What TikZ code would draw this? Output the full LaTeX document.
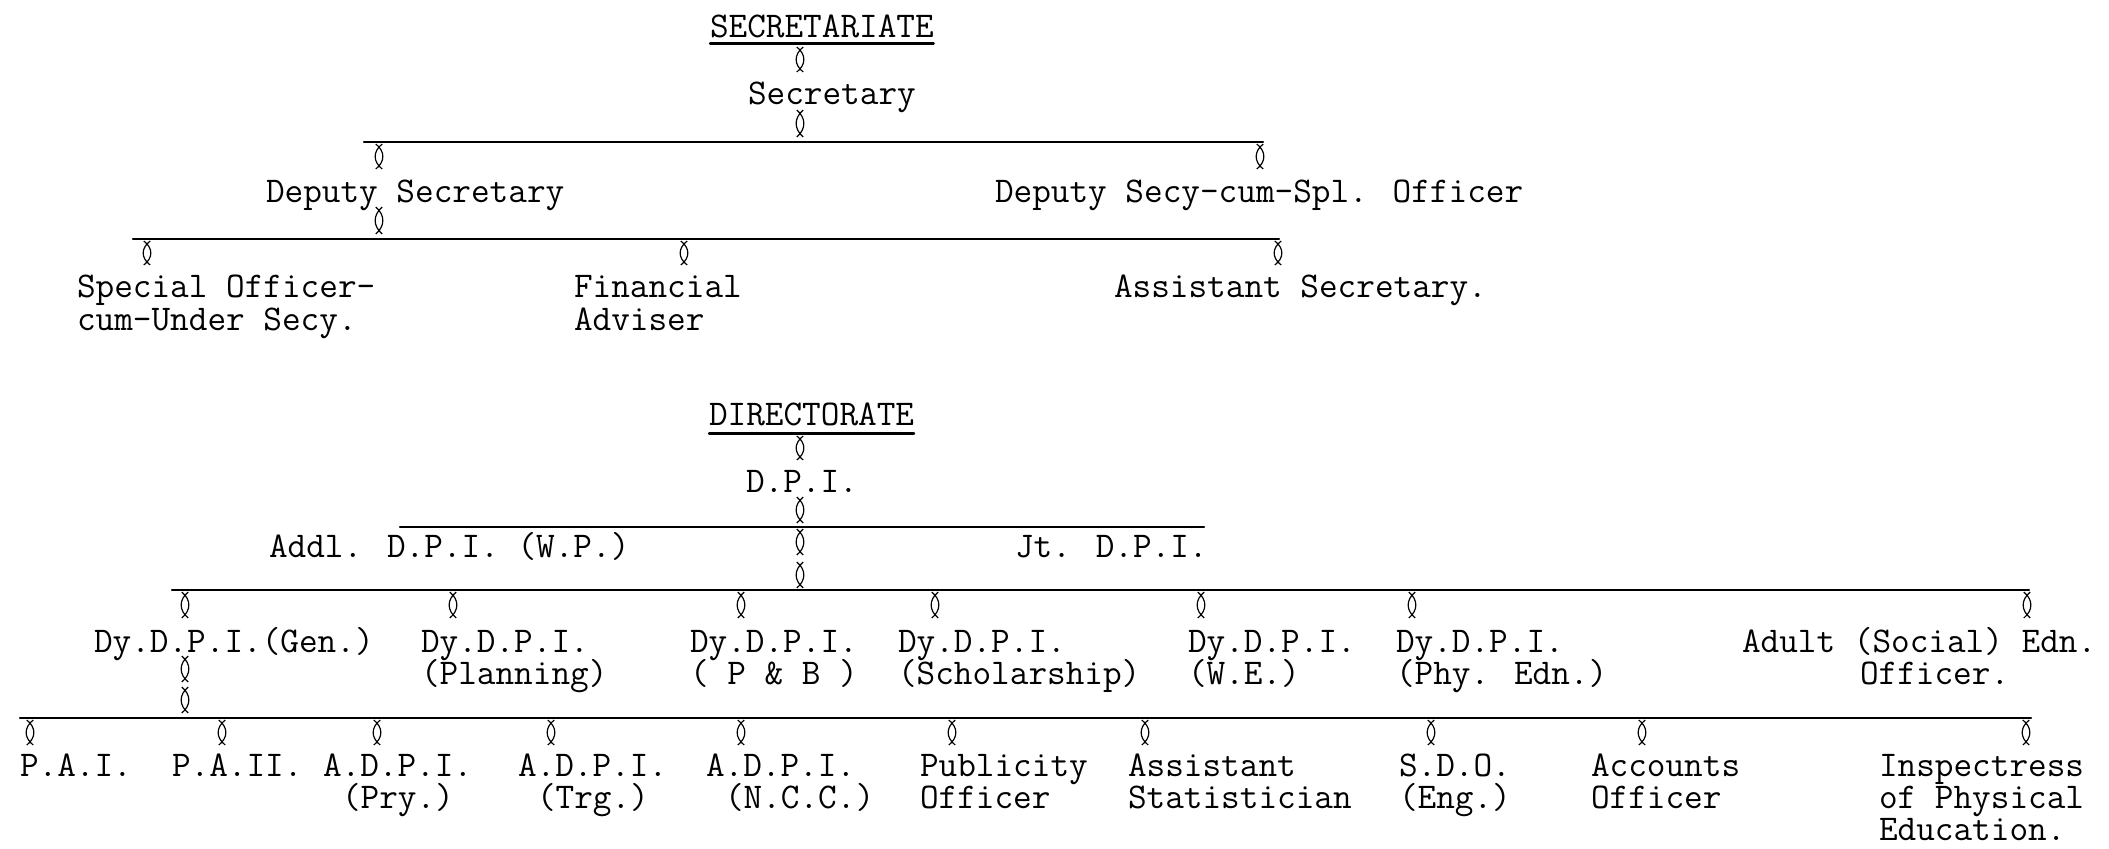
\documentclass[tikz,border=0pt]{standalone}
\usetikzlibrary{calc}
\newcommand\lblstrut{\rule{0pt}{14pt}}
\newcommand\onech{\hspace*{9.5pt}}
\lineskiplimit=-100pt
\tikzset{
  lbl/.style={anchor=north west, inner sep=0pt, outer sep=0pt, align=left,
    font=\fontsize{18.1}{16.5}\selectfont\ttfamily},
  lbldy/.style={lbl, font=\fontsize{18.1}{16}\selectfont\ttfamily},
  lblbot/.style={lbl, font=\fontsize{18.1}{16}\selectfont\ttfamily},
  bar/.style={line width=1.1pt, line cap=round},
  lensline/.style={line width=0.6pt},
}
\newcommand\lensconn[2]{\draw[lensline] let \p1=(#1), \p2=(#2) in
  (\x1-1.6pt,\y1) .. controls (\x1+3.1pt,{\y1+0.3*(\y2-\y1)}) and (\x1+3.1pt,{\y1+0.7*(\y2-\y1)}) .. (\x1-1.6pt,\y2)
  (\x1+1.6pt,\y1) .. controls (\x1-3.1pt,{\y1+0.3*(\y2-\y1)}) and (\x1-3.1pt,{\y1+0.7*(\y2-\y1)}) .. (\x1+1.6pt,\y2);}
\begin{document}
\begin{tikzpicture}[x=0.5pt,y=-0.5pt]
\useasboundingbox (0,0) rectangle (2109,848);
% ---------------- SECRETARIATE ----------------
\node[lbl] (secT)  at (710,9)   {\lblstrut SECRETARIATE};
\node[lbl] (secy)  at (748,76)  {\lblstrut Secretary};
\node[lbl] (dsec)  at (266,174) {\lblstrut Deputy Secretary};
\node[lbl] (dscso) at (995,174) {\lblstrut Deputy Secy-cum-Spl. Officer};
\node[lbl] (spo)   at (77,269)  {\lblstrut Special Officer-\\cum-Under Secy.};
\node[lbl] (fa)    at (574,269) {\lblstrut Financial\\Adviser};
\node[lbl] (asec)  at (1114,269) {\lblstrut Assistant Secretary.};
\coordinate (xs) at (800,0);
\coordinate (b1l) at (364,142); \coordinate (b1r) at (1263,142);
\coordinate (j1) at (800,142); \coordinate (k1) at (379,142); \coordinate (k2) at (1260,142);
\coordinate (b2l) at (133,239); \coordinate (b2r) at (1279,239);
\coordinate (k3) at (379,239);
\coordinate (m1) at (147,239); \coordinate (m2) at (684,239); \coordinate (m3) at (1278,239);
\draw[bar] ($(secT.south west)+(0,6)$) -- ($(secT.south east)+(0,6)$);
\draw[bar] (b1l) -- (b1r);
\draw[bar] (b2l) -- (b2r);
\lensconn{$(secT.base -| xs)+(0,10)$}{$(secy.north -| xs)+(0,-4)$}
\lensconn{$(secy.base -| xs)+(0,6)$}{$(j1)+(0,-5)$}
\lensconn{$(k1)+(0,2)$}{$(dsec.north -| k1)+(0,-5)$}
\lensconn{$(k2)+(0,2)$}{$(dscso.north -| k2)+(0,-5)$}
\lensconn{$(dsec.base -| k3)+(0,5)$}{$(k3)+(0,-5)$}
\lensconn{$(m1)+(0,2)$}{$(spo.north -| m1)+(0,-4)$}
\lensconn{$(m2)+(0,2)$}{$(fa.north -| m2)+(0,-4)$}
\lensconn{$(m3)+(0,2)$}{$(asec.north -| m3)+(0,-4)$}
% ---------------- DIRECTORATE ----------------
\node[lbl] (dirT) at (709,397) {\lblstrut DIRECTORATE};
\node[lbl] (dpi)  at (746,464) {\lblstrut D.P.I.};
\node[lbl] (addl) at (269,529) {\lblstrut Addl. D.P.I. (W.P.)};
\node[lbl] (jt)   at (1015,529) {\lblstrut Jt. D.P.I.};
\node[lbldy] (gen)  at (94,624)  {\lblstrut Dy.D.P.I.(Gen.)};
\node[lbldy] (plan) at (421,624) {\lblstrut Dy.D.P.I.\\(Planning)};
\node[lbldy] (pb)   at (690,624) {\lblstrut Dy.D.P.I.\\( P \& B )};
\node[lbldy] (sch)  at (898,624) {\lblstrut Dy.D.P.I.\\(Scholarship)};
\node[lbldy] (we)   at (1188,624) {\lblstrut Dy.D.P.I.\\(W.E.)};
\node[lbldy] (phy)  at (1396,624) {\lblstrut Dy.D.P.I.\\(Phy. Edn.)};
\node[lbldy] (adult) at (1742,624) {\lblstrut Adult (Social) Edn.\\\hspace*{59pt}Officer.};
\node[lblbot] (pa1)   at (20,748)  {\lblstrut P.A.I.};
\node[lblbot] (pa2)   at (172,748) {\lblstrut P.A.II.};
\node[lblbot] (adpry) at (323,748) {\lblstrut A.D.P.I.\\\onech(Pry.)};
\node[lblbot] (adtrg) at (518,748) {\lblstrut A.D.P.I.\\\onech(Trg.)};
\node[lblbot] (adncc) at (706,748) {\lblstrut A.D.P.I.\\\onech(N.C.C.)};
\node[lblbot] (pub)   at (920,748) {\lblstrut Publicity\\Officer};
\node[lblbot] (stat)  at (1128,748) {\lblstrut Assistant\\Statistician};
\node[lblbot] (sdo)   at (1399,748) {\lblstrut S.D.O.\\(Eng.)};
\node[lblbot] (acc)   at (1591,748) {\lblstrut Accounts\\Officer};
\node[lblbot] (insp)  at (1879,748) {\lblstrut Inspectress\\of Physical\\Education.};
\coordinate (b3l) at (400,527); \coordinate (b3r) at (1204,527); \coordinate (j3) at (800,527);
\coordinate (b4l) at (172,590); \coordinate (b4r) at (2029,590); \coordinate (j4) at (800,590);
\coordinate (n1) at (185,590); \coordinate (n2) at (453,590); \coordinate (n3) at (741,590);
\coordinate (n4) at (935,590); \coordinate (n5) at (1201,590); \coordinate (n6) at (1412,590);
\coordinate (n7) at (2027,590);
\coordinate (b5l) at (20,718); \coordinate (b5r) at (2031,718); \coordinate (p0) at (185,718);
\coordinate (q1) at (30,718); \coordinate (q2) at (222,718); \coordinate (q3) at (377,718);
\coordinate (q4) at (551,718); \coordinate (q5) at (741,718); \coordinate (q6) at (952,718);
\coordinate (q7) at (1145,718); \coordinate (q8) at (1431,718); \coordinate (q9) at (1642,718);
\coordinate (q10) at (2026,718);
\draw[bar] ($(dirT.south west)+(0,8)$) -- ($(dirT.south east)+(0,8)$);
\draw[bar] (b3l) -- (b3r);
\draw[bar] (b4l) -- (b4r);
\draw[bar] (b5l) -- (b5r);
\lensconn{$(dirT.base -| xs)+(0,11)$}{$(dpi.north -| xs)+(0,-4)$}
\lensconn{$(dpi.base -| xs)+(0,5)$}{$(j3)+(0,-4)$}
\lensconn{$(j3)+(0,2)$}{$(j3)+(0,28)$}
\lensconn{$(j4)+(0,-28)$}{$(j4)+(0,-2)$}
\lensconn{$(n1)+(0,2)$}{$(gen.north -| n1)+(0,-6)$}
\lensconn{$(n2)+(0,2)$}{$(plan.north -| n2)+(0,-6)$}
\lensconn{$(n3)+(0,2)$}{$(pb.north -| n3)+(0,-6)$}
\lensconn{$(n4)+(0,2)$}{$(sch.north -| n4)+(0,-6)$}
\lensconn{$(n5)+(0,2)$}{$(we.north -| n5)+(0,-6)$}
\lensconn{$(n6)+(0,2)$}{$(phy.north -| n6)+(0,-6)$}
\lensconn{$(n7)+(0,2)$}{$(adult.north -| n7)+(0,-6)$}
\lensconn{$(gen.base -| p0)+(0,4)$}{$(p0)+(0,-36)$}
\lensconn{$(p0)+(0,-31)$}{$(p0)+(0,-5)$}
\lensconn{$(q1)+(0,2)$}{$(pa1.north -| q1)+(0,-3)$}
\lensconn{$(q2)+(0,2)$}{$(pa2.north -| q2)+(0,-3)$}
\lensconn{$(q3)+(0,2)$}{$(adpry.north -| q3)+(0,-3)$}
\lensconn{$(q4)+(0,2)$}{$(adtrg.north -| q4)+(0,-3)$}
\lensconn{$(q5)+(0,2)$}{$(adncc.north -| q5)+(0,-3)$}
\lensconn{$(q6)+(0,2)$}{$(pub.north -| q6)+(0,-3)$}
\lensconn{$(q7)+(0,2)$}{$(stat.north -| q7)+(0,-3)$}
\lensconn{$(q8)+(0,2)$}{$(sdo.north -| q8)+(0,-3)$}
\lensconn{$(q9)+(0,2)$}{$(acc.north -| q9)+(0,-3)$}
\lensconn{$(q10)+(0,2)$}{$(insp.north -| q10)+(0,-3)$}
\end{tikzpicture}
\end{document}
